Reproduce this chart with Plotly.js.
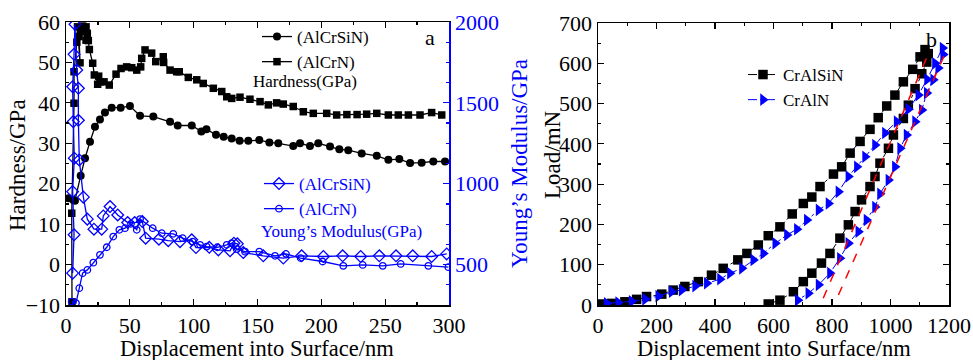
<!DOCTYPE html>
<html>
<head>
<meta charset="utf-8">
<script src="https://cdn.plot.ly/plotly-3.0.1.min.js"></script>
<style>html,body{margin:0;padding:0;background:#fff;}#chart{width:973px;height:360px;}</style>
</head>
<body>
<div id="chart"></div>
<script>
// ---- Panel a: hardness (GPa) ----
const hSiN_x = [1.8, 5.7, 7.0, 11.5, 14.9, 18.8, 22.7, 26.6, 30.5, 35.8, 42.8, 50.1, 58.0, 68.4, 81.5, 87.5, 98.5, 106, 110, 117.5, 123.5, 129.8, 136, 142.8, 151.4, 159.3, 166.3, 178, 183.3, 191.1, 197.6, 206.8, 214.1, 221.1, 231.6, 243.4, 252.5, 261.1, 269.5, 278.6, 287.7, 296.9];
const hSiN_y = [16.4, 16.0, 15.8, 22.0, 26.3, 30.4, 34.1, 35.9, 37.6, 38.8, 38.8, 39.2, 36.8, 36.6, 35.3, 34.4, 34.4, 32.9, 33.5, 32.1, 31.6, 31.2, 30.6, 30.6, 30.8, 30.2, 30.0, 29.3, 30.0, 29.3, 30.0, 29.2, 28.5, 28.3, 27.5, 26.9, 25.9, 26.1, 25.1, 25.2, 25.5, 25.5];
const hN_x = [4.7, 4.5, 6.3, 6.3, 8.5, 9.0, 11.0, 10.2, 11.5, 13.0, 15.7, 16.7, 15.7, 17.5, 18.3, 20.9, 22.2, 25.6, 24.8, 26.6, 29.8, 33.9, 39.2, 43.1, 47.5, 51.5, 55.4, 58.5, 59.3, 61.9, 67.1, 70.3, 76.2, 76.5, 81.5, 86.7, 88.7, 95.8, 102.4, 107.5, 115.4, 122, 125.9, 129.8, 136.3, 144.1, 152, 158.5, 165, 170.2, 178, 185.9, 193.7, 204.2, 212, 220, 228, 235.5, 243.4, 252.5, 260.3, 268.2, 277.3, 286.4, 294.3];
const hN_y = [-9.2, 12.7, 39.9, 47.7, 55.0, 58.8, 49.9, 56.4, 57.6, 59.0, 58.8, 57.2, 55.5, 55.4, 53.2, 49.8, 46.9, 46.6, 44.6, 45.2, 45.2, 44.4, 47.1, 48.5, 48.9, 48.7, 48.1, 48.9, 51.0, 53.1, 52.3, 50.2, 51.4, 50.0, 48.1, 47.7, 47.7, 46.3, 45.7, 44.8, 43.6, 42.8, 41.5, 41.1, 41.4, 40.9, 40.3, 39.5, 40.0, 39.7, 39.1, 37.8, 37.4, 37.4, 37.0, 37.1, 37.1, 37.2, 37.4, 37.0, 37.0, 37.0, 37.0, 37.6, 37.0];

// ---- Panel a: Young's modulus (GPa) ----
const eSiN_x = [5.2, 6.3, 5.2, 6.5, 5.7, 5.2, 6.3, 7.0, 8.4, 9.7, 9.7, 10.4, 13.6, 16.7, 21.9, 28.0, 29.2, 34.5, 40.5, 48.3, 53.8, 59.8, 62.4, 72.8, 80.1, 89.3, 98.5, 101.8, 112.2, 119.3, 128.5, 131.5, 134.2, 138.9, 154.5, 170.2, 184.6, 201.6, 216.7, 230.8, 245.4, 258.5, 271.6, 286.4, 298.2];
const eSiN_y = [447, 684, 951, 1158, 1384, 1600, 1800, 1986, 1703, 1590, 1392, 1147, 917, 781, 719, 719, 801, 859, 807, 760, 760, 766, 663, 657, 648, 642, 653, 605, 607, 591, 585, 632, 628, 574, 554, 540, 554, 550, 554, 550, 554, 554, 554, 550, 566];
const eN_x = [4.5, 7.8, 10.4, 13.0, 16.7, 21.4, 26.6, 31.9, 37.0, 41.8, 46.2, 50.9, 55.4, 58.0, 67.9, 75.0, 84.0, 91.4, 99.2, 105, 110.2, 118.5, 125.9, 129.8, 133.7, 140.2, 151.4, 163.7, 172.3, 183.8, 201, 217.2, 232.4, 248.1, 262.2, 283.8, 299.5];
const eN_y = [271, 262, 354, 447, 467, 512, 560, 607, 673, 715, 725, 752, 715, 781, 725, 694, 690, 663, 642, 622, 611, 607, 622, 632, 595, 580, 580, 554, 566, 540, 519, 492, 498, 492, 504, 492, 484];

// ---- Panel b: load-displacement ----
const lSiN_x = [7, 47, 92, 132, 166, 218, 257, 297, 343, 388, 428, 478, 509, 548, 582, 622, 664, 702, 731, 759, 805, 833, 862, 896, 930, 958, 987, 1015, 1044, 1076, 1101, 1118, 1129, 1124, 1107, 1084, 1061, 1044, 1010, 993, 964, 947, 930, 901, 879, 856, 827, 793, 764, 731, 702, 668, 622, 582];
const lSiN_y = [2.5, 4, 8, 14, 21, 27, 37, 46, 58, 74, 91, 112, 128, 149, 172, 194, 226, 252, 268, 294, 325, 343, 377, 406, 436, 465, 494, 521, 554, 585, 616, 634, 624, 603, 574, 537, 496, 463, 422, 389, 352, 319, 294, 261, 232, 199, 166, 128, 104, 79, 58, 33, 12, 2.5];
const lN_x = [30, 69, 115, 161, 206, 252, 286, 332, 372, 417, 451, 492, 531, 565, 606, 646, 680, 714, 754, 788, 822, 856, 885, 913, 947, 981, 1021, 1061, 1095, 1125, 1152, 1178, 1180, 1163, 1146, 1124, 1107, 1084, 1055, 1033, 1015, 993, 964, 947, 918, 890, 856, 827, 793, 754, 719, 683];
const lN_y = [4, 6, 9, 14, 22, 33, 37, 47, 54, 64, 79, 91, 112, 128, 153, 174, 188, 211, 236, 252, 281, 319, 343, 368, 397, 427, 455, 486, 521, 560, 600, 638, 622, 588, 559, 526, 484, 455, 422, 389, 343, 310, 276, 243, 211, 182, 153, 116, 79, 50, 29, 12];
const fit1_x = [770, 1135];
const fit1_y = [16.6, 633];
const fit2_x = [822, 1192];
const fit2_y = [25, 633];

const FONT = "'Liberation Serif', 'Times New Roman', serif";
const BLUE = '#0000ff';

const traces = [
  {x: hSiN_x, y: hSiN_y, name: '(AlCrSiN)', mode: 'lines+markers', xaxis: 'x', yaxis: 'y', legend: 'legend',
   line: {color: '#000', width: 1.3}, marker: {symbol: 'circle', size: 8, color: '#000'}},
  {x: hN_x, y: hN_y, name: '(AlCrN)', mode: 'lines+markers', xaxis: 'x', yaxis: 'y', legend: 'legend',
   line: {color: '#000', width: 1.3}, marker: {symbol: 'square', size: 7.5, color: '#000'}},
  {x: eSiN_x, y: eSiN_y, name: '(AlCrSiN)', mode: 'lines+markers', xaxis: 'x', yaxis: 'y2', legend: 'legend2',
   line: {color: BLUE, width: 1.3}, marker: {symbol: 'diamond-open', size: 9, color: BLUE, line: {width: 1.3}}},
  {x: eN_x, y: eN_y, name: '(AlCrN)', mode: 'lines+markers', xaxis: 'x', yaxis: 'y2', legend: 'legend2',
   line: {color: BLUE, width: 1.3}, marker: {symbol: 'circle-open', size: 6.5, color: BLUE, line: {width: 1.3}}},
  {x: lSiN_x, y: lSiN_y, name: 'CrAlSiN', mode: 'lines+markers', xaxis: 'x2', yaxis: 'y3', legend: 'legend3',
   line: {color: '#000', width: 1, dash: 'dashdot'}, marker: {symbol: 'square', size: 9.5, color: '#000'}},
  {x: lN_x, y: lN_y, name: 'CrAlN', mode: 'lines+markers', xaxis: 'x2', yaxis: 'y3', legend: 'legend3',
   line: {color: BLUE, width: 1, dash: 'dashdot'}, marker: {symbol: 'triangle-right', size: 11, color: BLUE}},
  {x: fit1_x, y: fit1_y, mode: 'lines', xaxis: 'x2', yaxis: 'y3', showlegend: false,
   line: {color: '#ff0000', width: 1.5, dash: 'dash'}},
  {x: fit2_x, y: fit2_y, mode: 'lines', xaxis: 'x2', yaxis: 'y3', showlegend: false,
   line: {color: '#ff0000', width: 1.5, dash: 'dash'}}
];

const axBase = {
  showline: true, linecolor: '#000', linewidth: 1.5, ticks: 'inside', ticklen: 6, tickwidth: 1.2,
  tickcolor: '#000', showgrid: false, zeroline: false,
  tickfont: {family: FONT, size: 22, color: '#000'}
};
const yTop = 1 - 22/360, yBot = 1 - 305/360;

const layout = {
  width: 973, height: 360,
  margin: {l: 0, r: 0, t: 0, b: 0},
  paper_bgcolor: '#fff', plot_bgcolor: 'rgba(0,0,0,0)',
  font: {family: FONT, size: 17, color: '#000'},
  xaxis: Object.assign({}, axBase, {
    domain: [66/973, 449/973], range: [0, 300], dtick: 50, anchor: 'y', mirror: 'ticks',
    minor: {dtick: 25, ticks: 'inside', ticklen: 3, tickcolor: '#000'}
  }),
  yaxis: Object.assign({}, axBase, {
    domain: [yBot, yTop], range: [-10, 60], dtick: 10, anchor: 'x',
    minor: {dtick: 5, ticks: 'inside', ticklen: 3, tickcolor: '#000'}
  }),
  yaxis2: Object.assign({}, axBase, {
    overlaying: 'y', side: 'right', anchor: 'x', range: [250, 2000], dtick: 500, tick0: 0,
    linecolor: BLUE, tickcolor: BLUE,
    tickfont: {family: FONT, size: 22, color: BLUE},
    minor: {dtick: 125, ticks: 'inside', ticklen: 3, tickcolor: BLUE},
    title: {text: 'Young’s Modulus/GPa', font: {family: FONT, size: 23, color: BLUE}, standoff: 13}
  }),
  xaxis2: Object.assign({}, axBase, {
    domain: [598/973, 949/973], range: [0, 1200], dtick: 200, anchor: 'y3', mirror: 'ticks',
    minor: {dtick: 100, ticks: 'inside', ticklen: 3, tickcolor: '#000'}
  }),
  yaxis3: Object.assign({}, axBase, {
    domain: [yBot, 1 - 23/360], range: [0, 700], dtick: 100, anchor: 'x2', mirror: 'ticks',
    minor: {dtick: 50, ticks: 'inside', ticklen: 3, tickcolor: '#000'}
  }),
  legend: {x: 257/973, y: 1 - 19/360, xanchor: 'left', yanchor: 'top', bgcolor: 'rgba(0,0,0,0)',
    font: {family: FONT, size: 17, color: '#000'}, tracegroupgap: 0},
  legend2: {x: 259/973, y: 1 - 166/360, xanchor: 'left', yanchor: 'top', bgcolor: 'rgba(0,0,0,0)',
    font: {family: FONT, size: 17, color: BLUE}, tracegroupgap: 0},
  legend3: {x: 743/973, y: 1 - 57/360, xanchor: 'left', yanchor: 'top', bgcolor: 'rgba(0,0,0,0)',
    font: {family: FONT, size: 17, color: '#000'}, tracegroupgap: 0},
  annotations: [
    {xref: 'paper', yref: 'paper', x: 257/973, y: 1 - 348/360, text: 'Displacement into Surface/nm', showarrow: false,
     height: 24, font: {family: FONT, size: 22.5}, xanchor: 'center', yanchor: 'middle'},
    {xref: 'paper', yref: 'paper', x: 774/973, y: 1 - 348/360, text: 'Displacement into Surface/nm', showarrow: false,
     height: 24, font: {family: FONT, size: 22.5}, xanchor: 'center', yanchor: 'middle'},
    {xref: 'paper', yref: 'paper', x: 18/973, y: 1 - 165/360, text: 'Hardness/GPa', showarrow: false,
     textangle: -90, font: {family: FONT, size: 23}, xanchor: 'center', yanchor: 'middle'},
    {xref: 'paper', yref: 'paper', x: 552/973, y: 1 - 155/360, text: 'Load/mN', showarrow: false,
     textangle: -90, font: {family: FONT, size: 23}, xanchor: 'center', yanchor: 'middle'},
    {xref: 'paper', yref: 'paper', x: 430/973, y: 1 - 38/360, text: 'a', showarrow: false,
     font: {family: FONT, size: 22}, xanchor: 'center', yanchor: 'middle'},
    {xref: 'paper', yref: 'paper', x: 931/973, y: 1 - 39/360, text: 'b', showarrow: false,
     font: {family: FONT, size: 22}, xanchor: 'center', yanchor: 'middle'},
    {xref: 'paper', yref: 'paper', x: 251/973, y: 1 - 82/360, text: 'Hardness(GPa)', showarrow: false,
     font: {family: FONT, size: 17, color: '#000'}, xanchor: 'left', yanchor: 'middle'},
    {xref: 'paper', yref: 'paper', x: 259/973, y: 1 - 231/360, text: 'Young’s Modulus(GPa)', showarrow: false,
     font: {family: FONT, size: 17, color: BLUE}, xanchor: 'left', yanchor: 'middle'}
  ]
};

Plotly.newPlot('chart', traces, layout, {displayModeBar: false, staticPlot: true});
</script>
</body>
</html>
